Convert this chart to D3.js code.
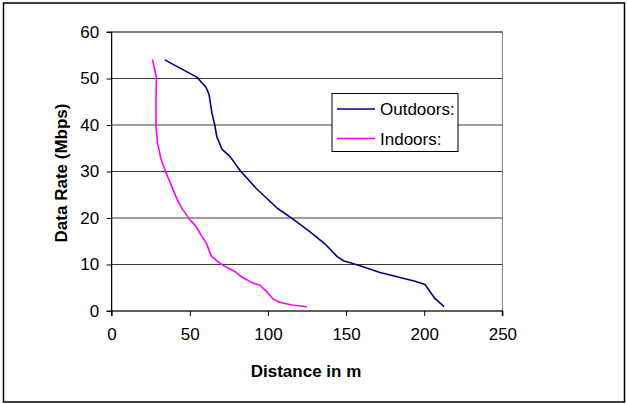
<!DOCTYPE html>
<html>
<head>
<meta charset="utf-8">
<script src="https://cdn.jsdelivr.net/npm/d3@7"></script>
<style>
  html, body { margin: 0; padding: 0; background: #fff; }
  svg { display: block; font-family: "Liberation Sans", Arial, sans-serif; }
</style>
</head>
<body>
<svg id="chart" width="627" height="404"></svg>
<script>
// ---- data ----
const outdoorDistance = [34, 54.5, 60.4, 62.4, 64.2, 66, 67.3, 70.6, 75.8, 82.2, 92.4, 106, 115.4, 127, 137.2, 144.3, 148.7, 153.8, 158.9, 171.7, 184.5, 193.5, 200.5, 206.8, 212.7];
const outdoorRate     = [54, 50.3, 48.1, 46.5, 42.5, 40, 37.5, 34.8, 33.2, 30.2, 26.4, 22.1, 19.9, 17, 14.2, 11.7, 10.75, 10.25, 9.75, 8.3, 7.2, 6.45, 5.7, 2.7, 0.93];
const indoorDistance  = [26.1, 26.9, 28.7, 28.4, 28.4, 29.4, 31.5, 34.5, 38.6, 42, 45.5, 50.2, 54.2, 57.8, 60.6, 63.8, 68.1, 71.7, 78.7, 83.3, 90.3, 94.7, 99.4, 103.3, 107.3, 115.4, 124.9];
const indoorRate      = [54.1, 52.9, 50.2, 45.4, 39.8, 36.1, 32.8, 30, 26.7, 23.9, 21.8, 19.6, 18.1, 16, 14.6, 11.8, 10.6, 9.75, 8.5, 7.3, 6.0, 5.6, 4.1, 2.6, 1.87, 1.3, 0.93];
const xTicks = [0, 50, 100, 150, 200, 250];
const yTicks = [0, 10, 20, 30, 40, 50, 60];
const seriesNames = ["Outdoors:", "Indoors:"];
const seriesColors = ["#000080", "#FF00FF"];
const xTitle = "Distance in m";
const yTitle = "Data Rate (Mbps)";

// ---- layout ----
const svg = d3.select("#chart");
const L = 111.6, R = 502.4, T = 32, B = 311;
const x = d3.scaleLinear().domain([0, 250]).range([L, R]);
const y = d3.scaleLinear().domain([0, 60]).range([B, T]);

// outer border
svg.append("rect").attr("x", 3.5).attr("y", 3).attr("width", 621).attr("height", 399)
  .attr("fill", "none").attr("stroke", "#000").attr("stroke-width", 1.5);

// plot area border (gray)
svg.append("rect").attr("x", L).attr("y", T).attr("width", R - L).attr("height", B - T)
  .attr("fill", "none").attr("stroke", "#808080").attr("stroke-width", 1);

// gridlines
svg.append("g").selectAll("line").data(yTicks.filter(d => d > 0)).join("line")
  .attr("x1", L).attr("x2", R).attr("y1", d => y(d)).attr("y2", d => y(d))
  .attr("stroke", "#3a3a3a").attr("stroke-width", 1.1);

// axes
const xAxis = d3.axisBottom(x).tickValues(xTicks).tickSize(5).tickPadding(12).tickFormat(d3.format("d"));
const yAxis = d3.axisLeft(y).tickValues(yTicks).tickSize(5).tickPadding(7.5).tickFormat(d3.format("d"));

const gx = svg.append("g").attr("transform", `translate(0,${B})`).call(xAxis);
const gy = svg.append("g").attr("transform", `translate(${L},0)`).call(yAxis);
[gx, gy].forEach(g => {
  g.select(".domain").attr("stroke", "#000").attr("stroke-width", 1.2);
  g.selectAll(".tick line").attr("stroke", "#000").attr("stroke-width", 1);
  g.selectAll(".tick text").attr("fill", "#000").style("font-size", "17px")
    .style("font-family", "'Liberation Sans', Arial, sans-serif");
});
gx.select(".domain").attr("d", `M${L},5V0H${R}V5`);
gy.select(".domain").attr("d", `M-5,${T}H0V${B}H-5`);

// lines
const line = d3.line().x(d => x(d[0])).y(d => y(d[1]));
const outdoor = outdoorDistance.map((d, i) => [d, outdoorRate[i]]);
const indoor = indoorDistance.map((d, i) => [d, indoorRate[i]]);
[outdoor, indoor].forEach((data, i) => {
  svg.append("path").datum(data).attr("d", line)
    .attr("fill", "none").attr("stroke", seriesColors[i]).attr("stroke-width", 1.6)
    .attr("stroke-linejoin", "round");
});

// axis titles
svg.append("text").attr("x", 306).attr("y", 377).attr("text-anchor", "middle")
  .style("font-size", "17px").style("font-weight", "bold").text(xTitle);
svg.append("text").attr("transform", "translate(67,173) rotate(-90)").attr("text-anchor", "middle")
  .style("font-size", "17px").style("font-weight", "bold").text(yTitle);

// legend
const lg = svg.append("g");
lg.append("rect").attr("x", 332).attr("y", 93.5).attr("width", 126).attr("height", 58)
  .attr("fill", "#fff").attr("stroke", "#000").attr("stroke-width", 1);
const ly = [109, 138.5];
seriesNames.forEach((n, i) => {
  lg.append("line").attr("x1", 337).attr("x2", 375).attr("y1", ly[i]).attr("y2", ly[i])
    .attr("stroke", seriesColors[i]).attr("stroke-width", 1.6);
  lg.append("text").attr("x", 380).attr("y", ly[i]).attr("dy", "0.36em")
    .style("font-size", "17px").text(n);
});
</script>
</body>
</html>
